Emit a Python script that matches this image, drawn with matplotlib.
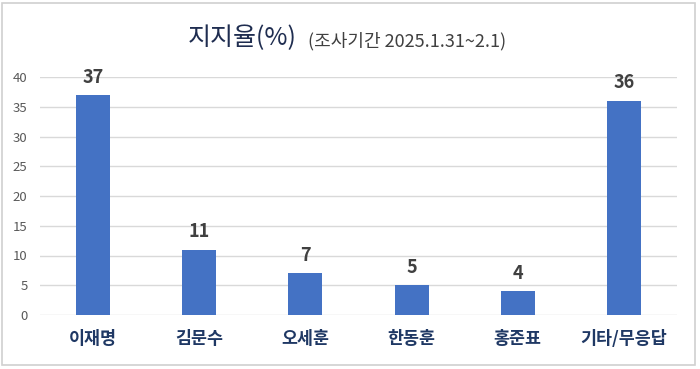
import matplotlib
matplotlib.use("Agg")
import matplotlib.pyplot as plt
from matplotlib.patches import Rectangle

plt.rcParams['font.family'] = ['Noto Sans CJK KR', 'DejaVu Sans']

categories = ["이재명", "김문수", "오세훈", "한동훈", "홍준표", "기타/무응답"]
values = [37, 11, 7, 5, 4, 36]
yticks = [0, 5, 10, 15, 20, 25, 30, 35, 40]

fig = plt.figure(figsize=(7.0, 3.69), dpi=100)
ax = fig.add_axes([40/700, 1-315/369, (677-40)/700, (315-77)/369])

x = list(range(len(categories)))
ax.bar(x, values, width=0.32, color="#4472C4", zorder=3)
ax.set_xlim(-0.5, len(categories) - 0.5)
ax.set_ylim(0, 40)
ax.set_yticks(yticks)
ax.set_yticklabels([str(t) for t in yticks], fontsize=9.5, color="#595959")
ax.set_xticks(x)
ax.set_xticklabels(categories, fontsize=12.5, fontweight="bold", color="#1F3864")
ax.tick_params(axis='both', length=0)
ax.tick_params(axis='x', pad=11)
ax.tick_params(axis='y', pad=9)
ax.grid(axis='y', color="#D9D9D9", linewidth=1, zorder=0)
for s in ax.spines.values():
    s.set_visible(False)

for xi, v in zip(x, values):
    ax.annotate(str(v), (xi, v), xytext=(0, 6), textcoords="offset points",
                ha="center", va="bottom", fontsize=13, fontweight="bold", color="#404040")

fig.text(188/700, 1-38/369, "지지율(%)", fontsize=18, color="#1F2D50", va="center", ha="left")
fig.text(308/700, 1-41/369, "(조사기간 2025.1.31~2.1)", fontsize=13, color="#404040", va="center", ha="left")

fig.patches.append(Rectangle((2/700, 4/369), 693/700, 362/369, transform=fig.transFigure,
                             fill=False, edgecolor="#D0D0D0", linewidth=1.2))

fig.savefig("out.png", dpi=100)
